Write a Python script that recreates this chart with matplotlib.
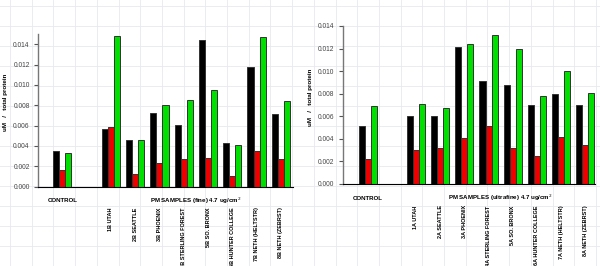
import numpy as np
import matplotlib.pyplot as plt
from matplotlib.lines import Line2D

plt.rcParams['font.family'] = ['Liberation Sans', 'DejaVu Sans']

# Data
fine_labels = ["1B UTAH", "2B SEATTLE", "3B PHOENIX", "4B STERLING FOREST",
               "5B SO. BRONX", "6B HUNTER COLLEGE", "7B NETH (HELTSTR)", "8B NETH (ZEBRST)"]
fine_black = [0.0035, 0.0057, 0.0046, 0.0072, 0.0061, 0.0144, 0.0043, 0.0118, 0.0071]
fine_red = [0.0016, 0.0059, 0.0012, 0.0023, 0.0027, 0.0028, 0.0011, 0.0035, 0.0027]
fine_green = [0.0033, 0.0148, 0.0046, 0.0080, 0.0085, 0.0095, 0.0041, 0.0147, 0.0084]

ultra_labels = ["1A UTAH", "2A SEATTLE", "3A PHOENIX", "4A STERLING FOREST",
                "5A SO. BRONX", "6A HUNTER COLLEGE", "7A NETH (HELTSTR)", "8A NETH (ZEBRST)"]
ultra_black = [0.0051, 0.0060, 0.0060, 0.0121, 0.0091, 0.0088, 0.0070, 0.0080, 0.0070]
ultra_red = [0.0022, 0.0030, 0.0032, 0.0041, 0.0051, 0.0032, 0.0025, 0.0042, 0.0035]
ultra_green = [0.0069, 0.0071, 0.0067, 0.0124, 0.0132, 0.0120, 0.0078, 0.0100, 0.0081]

# control at slot 0, samples at slots 2..9
slots = np.array([0] + list(range(2, 10)))
bw = 0.25
colors = ["#000000", "#ee0000", "#00e000"]

fig = plt.figure(figsize=(6, 2.66), dpi=100)

# graph-paper background
W, H = 600, 266
for x in np.arange(10, W, 21.7):
    fig.add_artist(Line2D([x / W, x / W], [0, 1], color="#e6e9ee", lw=0.6, zorder=-10))
for y in np.arange(6, H, 20.0):
    fig.add_artist(Line2D([0, 1], [1 - y / H, 1 - y / H], color="#e6e9ee", lw=0.6, zorder=-10))


def panel(rect, black, red, green, labels, title, ymax, xlim, ylab_x):
    ax = fig.add_axes(rect)
    ax.patch.set_alpha(0)
    for i, vals in enumerate([black, red, green]):
        ax.bar(slots + (i - 1) * bw, vals, width=bw, color=colors[i],
               edgecolor="#333333", linewidth=0.7)
    ax.set_xlim(*xlim)
    ax.set_ylim(0, ymax)
    ticks = np.arange(0, ymax + 1e-9, 0.002)
    ax.set_yticks(ticks)
    ax.set_yticklabels([f"{v:.3f}" for v in ticks])
    ax.tick_params(axis="y", labelsize=4.8, labelcolor="#444444", color="#555555",
                   length=3, width=0.8, pad=3)
    ax.set_xticks([])
    for s in ["top", "right"]:
        ax.spines[s].set_visible(False)
    ax.spines["left"].set_color("#777777")
    ax.spines["left"].set_linewidth(1.0)
    ax.spines["bottom"].set_color("#000000")
    ax.spines["bottom"].set_linewidth(0.8)

    tr = ax.get_xaxis_transform()
    ax.text(0, -0.09, "CONTROL", transform=tr, ha="center", va="center",
            fontsize=4.4, fontweight="bold")
    ax.text(5.5, -0.09, title, transform=tr, ha="center", va="center",
            fontsize=4.4, fontweight="bold")
    for s, lab in zip(slots[1:], labels):
        ax.text(s, -0.135, lab, transform=tr, ha="center", va="top",
                rotation=90, fontsize=4.0, fontweight="bold")
    fig.text(ylab_x, rect[1] + rect[3] * 0.55, "uM   /   total protein", rotation=90,
             ha="center", va="center", fontsize=4.5, fontweight="bold")
    return ax


panel([38 / W, 1 - 186.7 / H, (293 - 38) / W, (186.7 - 34) / H],
      fine_black, fine_red, fine_green, fine_labels,
      "PM SAMPLES (fine) 4.7 ug/cm$^2$", 0.015, (-1.0, 9.5), 6 / W)
panel([342.7 / W, 1 - 184 / H, (595 - 342.7) / W, (184 - 26) / H],
      ultra_black, ultra_red, ultra_green, ultra_labels,
      "PM SAMPLES (ultrafine) 4.7 ug/cm$^2$", 0.014, (-1.03, 9.4), 310 / W)

fig.savefig("out.png", dpi=100)
